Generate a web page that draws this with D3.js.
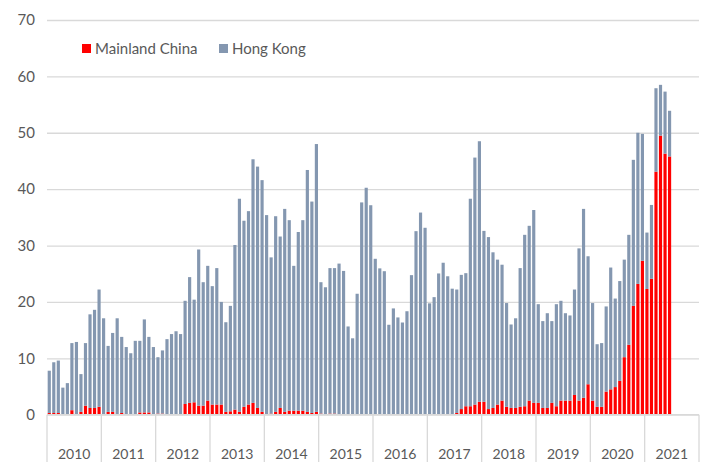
<!DOCTYPE html>
<html>
<head>
<meta charset="utf-8">
<script src="https://cdn.jsdelivr.net/npm/d3@7"></script>
<style>
  body { margin: 0; background: #fff; }
  text { font-family: Lato, "Liberation Sans", sans-serif; fill: #595959; }
</style>
</head>
<body>
<script>
// year groups on the category axis (2021 only has data up to June)
var years = ['2010', '2011', '2012', '2013', '2014', '2015', '2016', '2017', '2018', '2019', '2020', '2021'];
var yTicks = [0, 10, 20, 30, 40, 50, 60, 70];

// monthly values, one row per year
var mainlandChina = [
  0.3, 0.3, 0.3, 0.1, 0.1, 0.8, 0.1, 0.5, 1.6, 1.2, 1.2, 1.4,
  0.1, 0.5, 0.5, 0.1, 0.3, 0.1, 0.1, 0.1, 0.4, 0.4, 0.4, 0.1,
  0.2, 0.2, 0.1, 0.1, 0.1, 0.1, 1.9, 2.1, 2.2, 1.6, 1.6, 2.5,
  1.8, 1.8, 1.8, 0.5, 0.6, 0.9, 0.5, 1.4, 1.8, 2.1, 1.2, 0.5,
  0.1, 0.2, 0.5, 1.2, 0.5, 0.7, 0.7, 0.7, 0.7, 0.5, 0.3, 0.5,
  0.2, 0.1, 0.2, 0.2, 0.1, 0.1, 0.05, 0.05, 0.05, 0.05, 0.05, 0.05,
  0.05, 0.05, 0.05, 0.05, 0.05, 0.05, 0.05, 0.05, 0.05, 0.05, 0.05, 0.05,
  0.05, 0.05, 0.05, 0.05, 0.05, 0.05, 0.3, 1.0, 1.5, 1.5, 1.8, 2.3,
  2.3, 1.0, 1.2, 1.8, 2.5, 1.4, 1.2, 1.2, 1.4, 1.5, 2.5, 2.1,
  2.1, 1.2, 1.2, 2.1, 1.5, 2.5, 2.5, 2.5, 3.5, 2.5, 3.0, 5.4,
  2.5, 1.4, 1.4, 4.1, 4.5, 4.9, 6.0, 10.2, 12.4, 19.3, 23.2, 27.3,
  22.3, 24.1, 43.1, 49.5, 46.3, 45.8
];

var hongKong = [
  7.5, 9.0, 9.3, 4.7, 5.5, 11.9, 12.8, 6.7, 11.1, 16.6, 17.4, 20.8,
  17.0, 11.7, 14.0, 17.0, 13.5, 11.9, 10.8, 13.0, 12.7, 16.5, 13.4, 11.9,
  10.0, 11.2, 13.3, 14.2, 14.7, 14.2, 18.3, 22.3, 18.2, 27.7, 21.9, 23.9,
  21.0, 24.2, 18.2, 15.9, 18.7, 29.2, 37.8, 33.0, 34.3, 43.2, 42.8, 41.1,
  35.3, 27.7, 34.7, 30.4, 36.0, 33.8, 25.7, 31.7, 33.8, 42.9, 37.5, 47.5,
  23.3, 22.5, 25.8, 25.8, 26.7, 25.4, 15.6, 13.5, 21.4, 37.6, 40.2, 37.1,
  27.6, 25.9, 25.4, 15.9, 18.8, 17.2, 16.3, 18.3, 24.7, 32.5, 35.8, 33.1,
  19.7, 20.8, 25.0, 26.9, 24.5, 22.3, 21.9, 23.8, 23.6, 36.8, 43.8, 46.2,
  30.3, 30.5, 27.6, 25.7, 24.1, 18.4, 14.8, 15.9, 24.6, 30.4, 31.0, 34.2,
  17.5, 15.4, 16.8, 14.5, 18.1, 17.7, 15.5, 15.1, 18.7, 27.0, 33.5, 22.7,
  17.3, 11.1, 11.3, 15.1, 21.6, 15.7, 17.7, 17.3, 19.5, 25.9, 26.8, 22.5,
  10.0, 13.1, 14.8, 9.0, 11.0, 8.1
];

var seriesNames = ['Mainland China', 'Hong Kong'];
var colors = ['#ff0000', '#8497b0'];

var width = 706, height = 462;
var plotLeft = 47, plotRight = 699, plotTop = 20, plotBottom = 414.7;

var svg = d3.select('body').append('svg')
  .attr('width', width)
  .attr('height', height);

// one slot per month, for every year on the axis
var months = [];
years.forEach(function (yr) {
  d3.range(12).forEach(function (m) { months.push(yr + '-' + m); });
});

var x = d3.scaleBand().domain(months).range([plotLeft, plotRight]).paddingInner(0.3).paddingOuter(0.15);
var xYear = d3.scaleBand().domain(years).range([plotLeft, plotRight]);
var y = d3.scaleLinear().domain([0, 70]).range([plotBottom, plotTop]);

// gridlines + y labels
var yAxis = svg.append('g')
  .attr('transform', 'translate(' + plotLeft + ',0)')
  .call(d3.axisLeft(y).tickValues(yTicks).tickSize(-(plotRight - plotLeft)).tickPadding(12));
yAxis.select('.domain').remove();
yAxis.selectAll('.tick line').attr('stroke', '#d9d9d9').attr('stroke-width', 1.3);
yAxis.selectAll('.tick text').style('font-size', '15px').attr('fill', '#595959');

// stacked bars
var rows = hongKong.map(function (v, i) {
  return { key: months[i], mainland: mainlandChina[i], hk: v };
});
var stack = d3.stack().keys(['mainland', 'hk']);
var layers = stack(rows);

svg.selectAll('g.layer')
  .data(layers)
  .enter().append('g')
  .attr('class', 'layer')
  .attr('fill', function (d, i) { return colors[i]; })
  .selectAll('rect')
  .data(function (d) { return d; })
  .enter().append('rect')
  .attr('x', function (d) { return x(d.data.key); })
  .attr('width', x.bandwidth())
  .attr('y', function (d) { return y(d[1]); })
  .attr('height', function (d) { return y(d[0]) - y(d[1]); });

// category axis: baseline, year separators, year labels
svg.append('line')
  .attr('x1', plotLeft).attr('x2', plotRight)
  .attr('y1', plotBottom).attr('y2', plotBottom)
  .attr('stroke', '#d9d9d9').attr('stroke-width', 1.3);

svg.selectAll('line.sep')
  .data(years.concat(['end']))
  .enter().append('line')
  .attr('class', 'sep')
  .attr('x1', function (d) { return d === 'end' ? plotRight : xYear(d); })
  .attr('x2', function (d) { return d === 'end' ? plotRight : xYear(d); })
  .attr('y1', plotBottom).attr('y2', height)
  .attr('stroke', '#d9d9d9').attr('stroke-width', 1.3);

svg.selectAll('text.year')
  .data(years)
  .enter().append('text')
  .attr('class', 'year')
  .attr('x', function (d) { return xYear(d) + xYear.bandwidth() / 2; })
  .attr('y', 459)
  .attr('text-anchor', 'middle')
  .style('font-size', '14px')
  .text(function (d) { return d; });

// legend
var legendX = [82, 219];
var legend = svg.selectAll('g.legend')
  .data(seriesNames)
  .enter().append('g')
  .attr('class', 'legend')
  .attr('transform', function (d, i) { return 'translate(' + legendX[i] + ',44)'; });
legend.append('rect')
  .attr('width', 9).attr('height', 9)
  .attr('fill', function (d, i) { return colors[i]; });
legend.append('text')
  .attr('x', 13).attr('y', 9.5)
  .style('font-size', '15px')
  .text(function (d) { return d; });
</script>
</body>
</html>
